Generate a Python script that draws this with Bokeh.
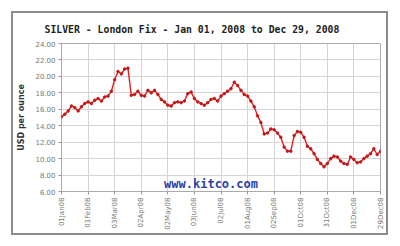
import math
from bokeh.plotting import figure
from bokeh.models import FixedTicker, Label, Range1d
from bokeh.embed import file_html
from bokeh.resources import INLINE

title_text = "SILVER - London Fix - Jan 01, 2008 to Dec 29, 2008"
y_label = "USD per ounce"
watermark = "www.kitco.com"

tick_labels = ["01Jan08", "01Feb08", "03Mar08", "02Apr08", "02May08", "03Jun08",
               "02Jul08", "01Aug08", "02Sep08", "01Oct08", "31Oct08", "01Dec08", "29Dec08"]

prices = [15.1, 15.4, 15.8, 16.4, 16.2, 15.8, 16.3, 16.7, 16.9, 16.7,
          17.1, 17.3, 17.0, 17.5, 17.6, 18.2, 19.6, 20.6, 20.3, 20.9,
          21.0, 17.7, 17.8, 18.2, 17.7, 17.6, 18.3, 18.0, 18.3, 17.8,
          17.2, 16.9, 16.5, 16.4, 16.8, 16.9, 16.8, 17.0, 17.9, 18.1,
          17.3, 16.9, 16.7, 16.5, 16.8, 17.2, 17.3, 17.0, 17.6, 17.9,
          18.2, 18.5, 19.3, 18.9, 18.3, 17.8, 17.6, 17.0, 16.3, 15.2,
          14.4, 13.0, 13.1, 13.6, 13.5, 13.1, 12.6, 11.4, 10.9, 10.9,
          12.8, 13.3, 13.2, 12.6, 11.5, 11.2, 10.6, 9.9, 9.4, 9.0,
          9.4, 10.0, 10.3, 10.2, 9.7, 9.4, 9.3, 10.2, 9.9, 9.5,
          9.6, 10.0, 10.3, 10.6, 11.2, 10.5, 10.9]

idx = list(range(len(prices)))
n = len(prices) - 1
tick_pos = [round(i * n / 12) for i in range(13)]

p = figure(width=373, height=220, output_backend="svg", toolbar_location=None,
           x_range=Range1d(0, n), y_range=Range1d(6, 24),
           min_border_left=48, min_border_right=6, min_border_top=29, min_border_bottom=42,
           margin=(13, 0, 0, 13),
           styles={"outline": "2px solid #8c8c8c"})
p.background_fill_color = "white"
p.border_fill_color = "white"
p.outline_line_color = "#aaaaaa"

p.line(idx, prices, line_color="#e02020", line_width=1.4)
p.scatter(idx, prices, size=2.5, color="#c01818")

p.xaxis.ticker = FixedTicker(ticks=tick_pos)
p.xaxis.major_label_overrides = {tp: lab for tp, lab in zip(tick_pos, tick_labels)}
p.xaxis.major_label_orientation = math.pi / 2
p.yaxis.ticker = FixedTicker(ticks=list(range(6, 25, 2)))
p.yaxis.major_label_overrides = {v: f"{v:.2f}" for v in range(6, 25, 2)}

for ax in (p.xaxis, p.yaxis):
    ax.axis_line_color = None
    ax.major_tick_line_color = "#999999"
    ax.major_tick_out = 3
    ax.major_tick_in = 0
    ax.minor_tick_line_color = None
    ax.major_label_text_font = "DejaVu Sans"
    ax.major_label_text_font_size = "7px"
    ax.major_label_text_color = "#777777"
    ax.major_label_standoff = 3

p.yaxis.axis_label = y_label
p.yaxis.axis_label_text_font = "DejaVu Sans"
p.yaxis.axis_label_text_font_style = "bold"
p.yaxis.axis_label_text_font_size = "8px"
p.yaxis.axis_label_text_color = "#333333"
p.yaxis.axis_label_standoff = 6

p.grid.grid_line_color = "#d4d4d4"
p.grid.grid_line_width = 1

p.title.text = title_text
p.title.text_font = "DejaVu Sans Mono"
p.title.text_font_style = "bold"
p.title.text_font_size = "9.8px"
p.title.text_color = "#222222"
p.title.align = "left"
p.title.offset = -17
p.title.standoff = 17

p.add_layout(Label(x=n / 2 - 3, y=6.1, text=watermark, text_align="center",
                   text_baseline="bottom", text_font="DejaVu Sans Mono",
                   text_font_style="bold", text_font_size="12px", text_color="#2b3fa8"))

open("out.html", "w").write(file_html(p, INLINE))
